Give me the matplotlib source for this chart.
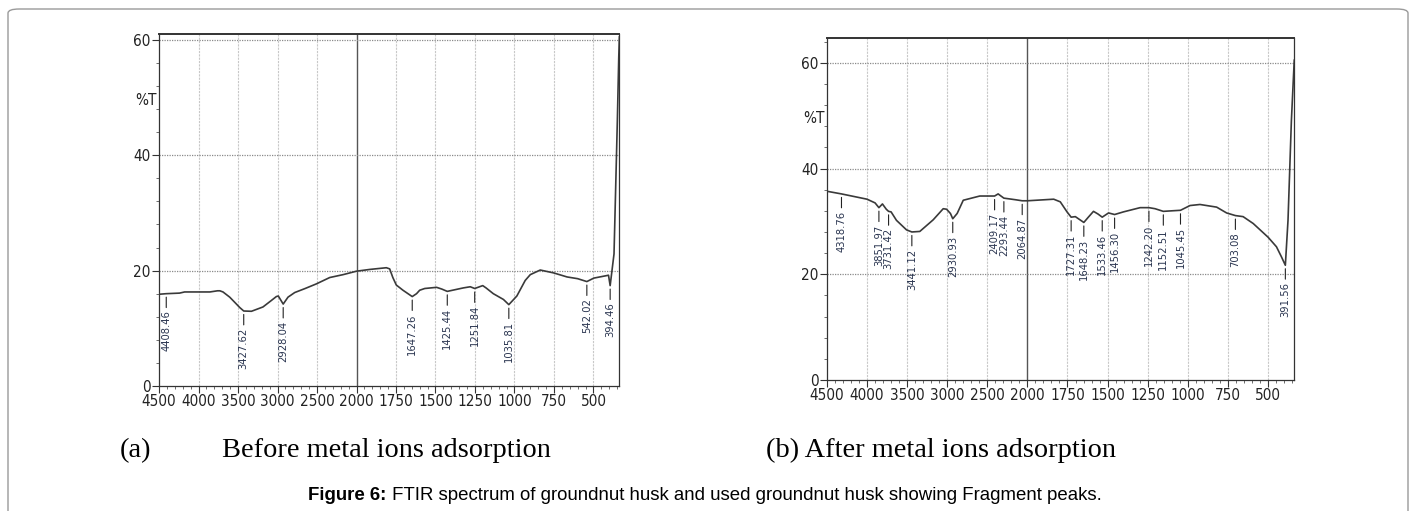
import numpy as np
import matplotlib
matplotlib.use('Agg')
import matplotlib.pyplot as plt
from matplotlib import font_manager
from matplotlib.patches import FancyBboxPatch
from matplotlib.ticker import FixedLocator, NullFormatter

# fonts: narrow sans for the instrument print-out, serif for panel labels
avail = {f.name for f in font_manager.fontManager.ttflist}
narrow = 'Liberation Sans Narrow' if 'Liberation Sans Narrow' in avail else 'DejaVu Sans'
stretch = 'normal' if narrow == 'Liberation Sans Narrow' else 'condensed'

# %%
# (a) before metal ions adsorption  -- wavenumber [cm-1], %T
wn_a = [4500, 4408.46, 4240, 4176, 3856, 3760, 3730, 3690, 3605, 3520, 3478, 3427.62,
        3330, 3184, 3080, 3015, 2990, 2928.04, 2867, 2782, 2650, 2508, 2339, 2170, 2000,
        1917, 1811, 1790, 1770, 1748, 1706, 1647.26, 1620, 1600, 1568, 1493, 1460, 1425.44,
        1324, 1280, 1251.84, 1201, 1180, 1134, 1070, 1035.81, 985, 932, 900, 837, 752, 667,
        600, 542.02, 498, 423, 405, 394.46, 370, 349, 340, 336]
t_a = [15.9, 16.0, 16.1, 16.3, 16.3, 16.5, 16.5, 16.3, 15.4, 14.2, 13.6, 13.0,
       12.95, 13.7, 14.8, 15.5, 15.6, 14.2, 15.4, 16.2, 16.9, 17.7, 18.8, 19.3, 19.9,
       20.2, 20.5, 20.3, 18.8, 17.5, 16.6, 15.5, 16.0, 16.6, 16.9, 17.1, 16.8, 16.4,
       17.0, 17.2, 16.9, 17.4, 17.0, 16.0, 15.0, 14.1, 15.6, 18.3, 19.3, 20.1, 19.6, 18.9,
       18.6, 18.1, 18.7, 19.1, 19.2, 17.4, 22.9, 45.9, 57.0, 60.5]
peaks_a = [4408.46, 3427.62, 2928.04, 1647.26, 1425.44, 1251.84, 1035.81, 542.02, 394.46]

# (b) after metal ions adsorption
wn_b = [4500, 4318.76, 4000, 3900, 3851.97, 3808, 3760, 3731.42, 3700, 3633, 3508, 3441.12,
        3342, 3175, 3050, 3008, 2960, 2930.93, 2876, 2800, 2594, 2409.17, 2365, 2330, 2293.44,
        2150, 2064.87, 2000, 1836, 1795, 1753, 1727.31, 1701, 1648.23, 1620, 1588, 1560,
        1533.46, 1494, 1456.30, 1401, 1297, 1242.20, 1204, 1152.51, 1100, 1045.45, 986, 924,
        820, 758, 703.08, 655, 592, 499, 447, 416, 391.56, 375, 354, 340, 336]
t_b = [35.7, 35.2, 34.2, 33.5, 32.6, 33.3, 32.3, 31.9, 31.8, 30.2, 28.4, 28.0,
       28.1, 30.3, 32.4, 32.3, 31.5, 30.5, 31.5, 34.0, 34.8, 34.8, 35.2, 34.8, 34.4,
       34.1, 33.9, 33.9, 34.2, 33.7, 31.8, 30.8, 30.9, 29.8, 30.8, 31.9, 31.4,
       30.8, 31.6, 31.3, 31.8, 32.6, 32.6, 32.4, 31.9, 32.0, 32.1, 33.0, 33.2,
       32.7, 31.6, 31.1, 30.9, 29.6, 27.0, 25.2, 23.3, 21.7, 30.2, 49.0, 58.0, 60.5]
peaks_b = [4318.76, 3851.97, 3731.42, 3441.12, 2930.93, 2409.17, 2293.44, 2064.87, 1727.31,
           1648.23, 1533.46, 1456.30, 1242.20, 1152.51, 1045.45, 703.08, 391.56]

major_x = [4500, 4000, 3500, 3000, 2500, 2000, 1750, 1500, 1250, 1000, 750, 500]
minor_x = [w for w in range(4400, 2000, -100) if w % 500] + \
          [w for w in range(1950, 340, -50) if w % 250]


# the spectrometer doubles the x scale below 2000 cm-1
def fwd(w):
    w = np.asarray(w, dtype=float)
    return np.where(w >= 2000, w, 2 * w - 2000)


def inv(x):
    x = np.asarray(x, dtype=float)
    return np.where(x >= 2000, x, (x + 2000) / 2)


def spectrum(ax, wn, t, peaks, ytop, ymin_ticks):
    ax.set_xscale('function', functions=(fwd, inv))
    ax.plot(wn, t, color='#3a3a3a', lw=1.2, zorder=3)
    ax.set_xlim(4500, 338)
    ax.set_ylim(0, ytop)

    ax.xaxis.set_major_locator(FixedLocator(major_x))
    ax.xaxis.set_minor_locator(FixedLocator(minor_x))
    ax.xaxis.set_minor_formatter(NullFormatter())
    ax.set_xticklabels([str(w) for w in major_x])
    ax.yaxis.set_major_locator(FixedLocator([0, 20, 40, 60]))
    ax.yaxis.set_minor_locator(FixedLocator(ymin_ticks))
    ax.yaxis.set_minor_formatter(NullFormatter())

    ax.tick_params(which='major', direction='out', length=5, width=0.8, color='#333333',
                   labelsize=11, labelcolor='#222222', pad=1)
    ax.tick_params(which='minor', direction='out', length=2.5, width=0.6, color='#555555')
    for lab in ax.get_xticklabels() + ax.get_yticklabels():
        lab.set_family(narrow)
        lab.set_stretch(stretch)

    # grid like the instrument print-out
    for w in major_x[1:]:
        if w == 2000:
            ax.axvline(w, color='#555555', lw=1.0, zorder=1)
        else:
            ax.axvline(w, color='#c8c8c8', lw=0.8, ls=(0, (2, 1)), zorder=1)
    for y in [20, 40, 60]:
        ax.axhline(y, color='#8a8a8a', lw=0.9, ls=(0, (1, 1)), zorder=1)

    for s in ax.spines.values():
        s.set_color('#333333')
        s.set_linewidth(0.9)
    ax.spines['top'].set_linewidth(1.4)

    ax.text(-0.028, 49.5, '%T', transform=ax.get_yaxis_transform(), ha='center',
            va='center', fontsize=11, family=narrow, stretch=stretch, color='#222222')

    # peak labels
    wr, tr = np.array(wn)[::-1], np.array(t)[::-1]
    for p in peaks:
        yv = np.interp(p, wr, tr)
        ax.annotate('%.2f' % p, xy=(p, yv), xytext=(0, -12), textcoords='offset points',
                    rotation=90, ha='center', va='top', fontsize=8, family=narrow,
                    stretch=stretch, color='#2a3550',
                    arrowprops=dict(arrowstyle='-', lw=0.8, color='#222222',
                                    shrinkA=0, shrinkB=2.5))


fig = plt.figure(figsize=(14.16, 5.11), dpi=100)

ax1 = fig.add_axes([0.1123, 0.2446, 0.3249, 0.6888])
spectrum(ax1, wn_a, t_a, peaks_a, 61.0, [4, 8, 12, 16, 24, 28, 32, 36, 44, 48, 52, 56])

ax2 = fig.add_axes([0.5840, 0.2564, 0.3298, 0.6693])
spectrum(ax2, wn_b, t_b, peaks_b, 64.7, [4, 8, 12, 16, 24, 28, 32, 36, 44, 48, 52, 56, 64])

# panel labels
fig.text(120 / 1416, 1 - 457 / 511, '(a)', family='Liberation Serif', fontsize=20.4, va='baseline')
fig.text(222 / 1416, 1 - 457 / 511, 'Before metal ions adsorption', family='Liberation Serif',
         fontsize=20.4, va='baseline')
fig.text(766 / 1416, 1 - 457 / 511, '(b) After metal ions adsorption', family='Liberation Serif',
         fontsize=20.4, va='baseline')

# caption: bold lead-in + regular text, centred as a whole
cap_y = 1 - 500 / 511
t1 = fig.text(0, cap_y, 'Figure 6:', family='Liberation Sans', fontweight='bold', fontsize=13.4,
              va='baseline')
t2 = fig.text(0, cap_y, ' FTIR spectrum of groundnut husk and used groundnut husk showing Fragment peaks.',
              family='Liberation Sans', fontsize=13.4, va='baseline')
fig.canvas.draw()
r = fig.canvas.get_renderer()
w1 = t1.get_window_extent(r).width
w2 = t2.get_window_extent(r).width
x0 = 705 - (w1 + w2) / 2
t1.set_x(x0 / 1416)
t2.set_x((x0 + w1) / 1416)

# frame around the figure (open at the bottom)
fig.patches.append(FancyBboxPatch((8 / 1416, -0.1), 1400 / 1416, 502 / 511 + 0.1,
                                  boxstyle='round,pad=0,rounding_size=0.008',
                                  transform=fig.transFigure, fill=False,
                                  edgecolor='#9a9a9a', lw=1.0))

fig.savefig('out.png', dpi=100)
